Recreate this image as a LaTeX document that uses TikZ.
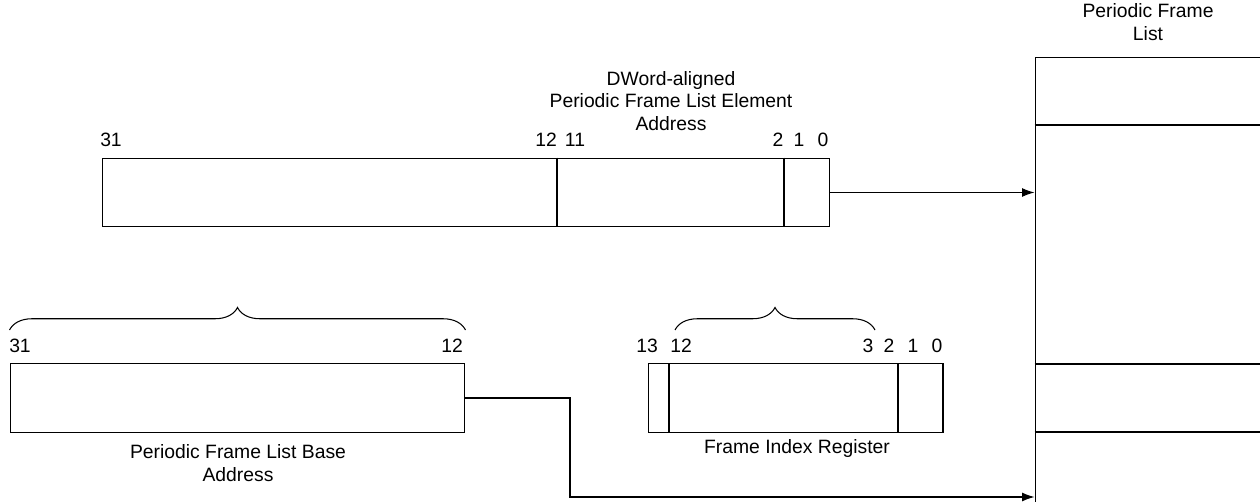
\documentclass[tikz,border=0pt]{standalone}
\usepackage{fontspec}
\setmainfont{Liberation Sans}
\usetikzlibrary{arrows.meta, decorations.pathreplacing, positioning, calc}

\begin{document}
\begin{tikzpicture}[x=0.02cm, y=-0.02cm, line width=0.6pt,
    font=\fontsize{11}{13}\selectfont, >={Latex[length=7pt,width=5pt]},
    reg/.style={draw, minimum height=1.37cm, inner sep=0pt},
    bit/.style={inner sep=0pt, anchor=base},
    caption/.style={align=center, inner sep=0pt},
    brc/.style={decorate, decoration={brace, amplitude=0.45cm}}]
    \useasboundingbox (0,0) rectangle (1260,502);

    % element address register
    \node[reg, minimum width=14.56cm] (addr) at (466,192.5) {};
    \draw (557,0 |- addr.north) -- (557,0 |- addr.south);
    \draw (784,0 |- addr.north) -- (784,0 |- addr.south);
    \node[bit] (a31) at (111,147) {31};
    \node[bit] (a12) at (546,147) {12};
    \node[bit] (a11) at (575,147) {11};
    \node[bit] (a2) at (778,147) {2};
    \node[bit] (a1) at (799,147) {1};
    \node[bit] (a0) at (823,147) {0};
    \node[caption] (addrlbl) at (671,101) {DWord-aligned\\Periodic Frame List Element\\Address};

    % periodic frame list
    \node[draw, minimum width=4.7cm, minimum height=9.1cm, inner sep=0pt] (list) at (1152.5,284.5) {};
    \draw (list.west |- 0,125) -- (list.east |- 0,125);
    \draw (list.west |- 0,364) -- (list.east |- 0,364);
    \draw (list.west |- 0,432) -- (list.east |- 0,432);
    \node[caption] (listlbl) at (1148,22.5) {Periodic Frame\\List};

    % base address register
    \node[reg, minimum width=9.1cm] (base) at (237.5,398) {};
    \node[bit] (b31) at (20,353) {31};
    \node[bit] (b12) at (452,353) {12};
    \draw[brc] (base.north west |- 0,330) -- (base.north east |- 0,330);
    \node[caption] (baselbl) at (238,463) {Periodic Frame List Base\\Address};

    % frame index register
    \node[reg, minimum width=5.9cm] (idx) at (795.5,398) {};
    \draw (669,0 |- idx.north) -- (669,0 |- idx.south);
    \draw (898,0 |- idx.north) -- (898,0 |- idx.south);
    \node[bit] (i13) at (647,353) {13};
    \node[bit] (i12) at (681,353) {12};
    \node[bit] (i3) at (868,353) {3};
    \node[bit] (i2) at (889,353) {2};
    \node[bit] (i1) at (913,353) {1};
    \node[bit] (i0) at (937,353) {0};
    \draw[brc] (675,330) -- (875,330);
    \node[caption] (idxlbl) at (797,449) {Frame Index Register};

    % connectors
    \draw[->] (addr.east) -- (list.west |- addr.east);
    \coordinate (bend) at (570,497);
    \draw[->] (base.east) -| (bend) -- (list.west |- bend);
\end{tikzpicture}
\end{document}
